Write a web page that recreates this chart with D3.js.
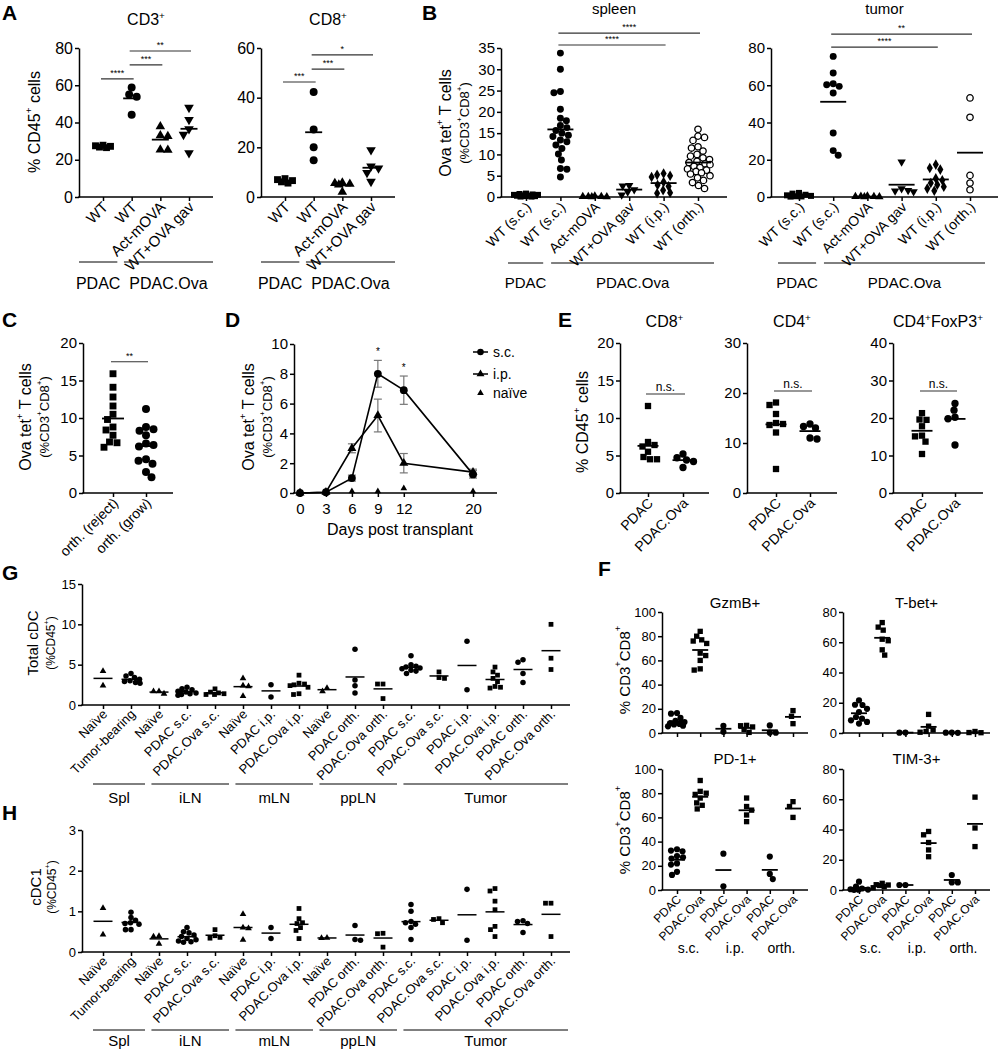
<!DOCTYPE html>
<html><head><meta charset="utf-8">
<script src="https://cdn.jsdelivr.net/npm/d3@7"></script>
<style>
body{margin:0;background:#fff}
svg text{font-family:"Liberation Sans",Arial,Helvetica,sans-serif;fill:#000}
</style></head><body>
<svg id="c" width="999" height="1050"></svg>
<script>
// ================= DATA =================
// Panel A
const aCats = ["WT","WT","Act-mOVA","WT+OVA gav"];
const aGroups = [["PDAC",0,0],["PDAC.Ova",1,3]];
const aCD3 = [[27.8,27.2,26.8,26.5,27.5],[58.8,55,53.8,44.2],[37.8,33,32.6,25.4,25.2],[48,41.5,36.5,33.5,23.6]];
const aCD8 = [[7.4,7.0,6.6,6.1,5.6],[42.3,27.2,20,14.8],[5.7,5.5,5.2,4.9,2.0],[18.9,12.4,11.6,9.8,6.2]];
const aCD3Sig = [[0,1,63.4,"****"],[1,2,70.9,"***"],[1,3,78.4,"**"]];
const aCD8Sig = [[0,1,46.3,"***"],[1,2,51.5,"***"],[1,3,57.2,"*"]];
const aTicksCD3 = [0,20,40,60,80];
const aTicksCD8 = [0,20,40,60];
// Panel B
const bCats = ["WT (s.c.)","WT (s.c.)","Act-mOVA","WT+OVA gav","WT (i.p.)","WT (orth.)"];
const bGroups = [["PDAC",0,0],["PDAC.Ova",1,5]];
const bSpleen = [
  [0.8,0.7,0.6,0.5,0.5,0.4,0.3,0.3,0.2,0.2,0.1,0.1],
  [33.8,30,24.8,24.5,20.6,18.5,17.9,16.8,16.3,15.6,15,14.5,14.2,13.4,13,12.2,11.4,10.1,8.7,6.7,6.5,4.7],
  [0.2,0.1,0.1,0.05,0.05,0.1],
  [2.7,2.6,1.7,1.2,0.5],
  [5.5,5.2,5.0,4.7,3.5,2.8,2.5,1.6,1.0,0.9],
  [15.9,14.3,14.0,13.3,11.8,11.5,10.8,10.0,9.6,9.2,8.8,8.4,8.1,7.8,7.6,7.2,6.9,6.6,6.3,6.0,5.7,5.4,5.0,4.5,3.9,3.4,2.7,2.0]
];
const bTumor = [
  [2.2,1.8,1.2,0.9,0.6,0.4,0.3,0.2],
  [75.5,66.6,60.8,60.3,59.4,55.8,34.4,24.9,22.4],
  [0.5,0.3,0.2,0.2,0.1,0.1],
  [18.8,4.5,3.6,3.3,2.8],
  [17.4,15.6,14.7,10,9,7.5,6.6,5.5,4.5,3.4],
  [53.2,42.8,11.6,7.5,3.9]
];
const bSpleenSig = [[1,5,38.5,"****"],[1,4,35.7,"****"]];
const bTumorSig = [[1,5,87.5,"**"],[1,4,80.5,"****"]];
const bTicksSpleen = [0,5,10,15,20,25,30,35];
const bTicksTumor = [0,20,40,60,80];
// Panel C
const cCats = ["orth. (reject)","orth. (grow)"];
const cVals = [[15.9,14.1,12.8,11.6,10.5,9.8,8.8,8.4,7.7,6.8,6.7,6.1],[11.2,8.8,8.5,8.3,7.7,6.6,6.4,6.2,4.5,4.3,3.9,2.8,2.1]];
const cSig = [[0,1,17.5,"**"]];
const cTicks = [0,5,10,15,20];
// Panel D
const dDays = [0,3,6,9,12,20];
const dSC = [0,0.05,1.0,8.0,6.9,1.25];
const dSCerr = [0,0,0.2,0.9,0.95,0.25];
const dIP = [0,0.05,3.0,5.2,2.0,1.4];
const dIPerr = [0,0,0.3,1.1,0.65,0.2];
const dNaive = [0,0,0.05,0.05,0.25,0.05];
const dStars = [[9,"*"],[12,"*"]];
const dTicksY = [0,2,4,6,8,10];
const dLegend = ["s.c.","i.p.","naïve"];
// Panel E
const eCats = ["PDAC","PDAC.Ova"];
const eCD8 = [[11.6,6.8,6.4,6.2,5.5,4.8,4.5,4.5],[5.2,4.7,4.4,4.2,3.4]];
const eCD4 = [[18.1,17.6,15.8,14,13.8,13.6,12.1,4.8],[13.8,13.3,13.0,11.0,10.8]];
const eFox = [[21.3,19.6,19.5,17.8,15.3,15.1,13.7,10.4],[23.9,22.1,20.2,19.8,12.8]];
const eSig = [13.2,20.4,27.2];
// Panel F
const fCats = ["PDAC","PDAC.Ova","PDAC","PDAC.Ova","PDAC","PDAC.Ova"];
const fRoutes = ["s.c.","i.p.","orth."];
const fGzmB = [[16.5,16,12.5,10,9,8,7.5,7,6,5.5],[84,80,77,76,74,66,64,60,53,52],[6,1],[6.3,6.0,5,3,0.5],[6.3,0.3,0.2],[18.5,13.8,7.7]];
const fTbet = [[21.6,18.7,18.5,16,13.9,10.6,9.5,8.4,7.3,6.2],[73,70,68,62,61,55,51.5],[0.3,0.2],[12.3,4.5,2,1,0.5],[0.2,0.1,0.3],[1,0.3,0.2]];
const fPD1 = [[33.7,32.6,32,28,27,26,22,21,15,12.5],[90.5,81.5,80,79,76,72,70,67],[30,3],[76,69,66,62,56.5],[27.6,13.3,9],[73,69,60]];
const fTIM3 = [[5.5,2.2,1,0.5,0.3,0.2,0.1],[4.4,3.5,3.3,3,2.2,1.5],[3.3,3.3],[38.7,36.5,31.4,26.5,22],[9.9,5,5],[61.4,41,28.7]];
// Panels G & H
const gCats = ["Naïve","Tumor-bearing","Naïve","PDAC s.c.","PDAC.Ova s.c.","Naïve","PDAC i.p.","PDAC.Ova i.p.","Naïve","PDAC orth.","PDAC.Ova orth.","PDAC s.c.","PDAC.Ova s.c.","PDAC i.p.","PDAC.Ova i.p.","PDAC orth.","PDAC.Ova orth."];
const gGroups = [["Spl",0,1],["iLN",2,4],["mLN",5,7],["ppLN",8,10],["Tumor",11,16]];
const gVals = [[4.2,2.4],[3.9,3.6,3.4,3.2,3.0,2.9,2.8,2.7],[1.7,1.7,1.4],[2.2,2.0,1.9,1.7,1.6,1.5,1.4,1.3,1.2],[2.0,1.6,1.5,1.4,1.3,1.3],[3.3,2.4,2.3,1.1],[2.5,1.0],[3.7,2.7,2.6,2.5,2.4,2.2,1.4,1.3],[2.1,1.7],[6.9,3.1,2.4,1.5],[2.6,2.6,0.8],[6.1,5.0,4.8,4.7,4.6,4.5,4.3,4.2,3.9],[4.1,3.4,3.3],[7.9,1.9],[4.7,4.1,3.7,3.3,2.9,2.3,2.2,2.1],[5.6,5.3,3.9,2.8],[10,5.8,4.4]];
const hVals = [[1.08,0.43],[0.98,0.85,0.78,0.72,0.7,0.68,0.55,0.55],[0.39,0.38,0.2],[0.6,0.5,0.47,0.42,0.38,0.33,0.3,0.27,0.25,0.24],[0.55,0.4,0.36,0.34],[0.93,0.6,0.58,0.3],[0.6,0.33],[1.07,0.82,0.72,0.7,0.6,0.53,0.33],[0.35,0.34],[0.65,0.31,0.29],[0.46,0.45,0.12],[1.17,1.0,0.75,0.72,0.68,0.6,0.31],[0.82,0.8,0.72],[1.54,0.29],[1.56,1.5,1.25,1.04,0.63,0.55,0.38],[0.77,0.75,0.7,0.48],[1.2,1.2,0.38]];
const gTicks = [0,5,10,15];
const hTicks = [0,1,2,3];

// ================= DRAWING =================
const svg = d3.select("#c");
const FONT = '"Liberation Sans", Arial, Helvetica, sans-serif';
const fmt = d3.format("~g");

function txt(parent, x, y, str, size, opt = {}) {
  const t = parent.append("text").attr("x", x).attr("y", y).attr("font-size", size)
    .attr("text-anchor", opt.anchor || "middle").attr("font-family", FONT);
  if (opt.weight) t.attr("font-weight", opt.weight);
  if (opt.transform) t.attr("transform", opt.transform);
  if (opt.baseline) t.attr("dominant-baseline", opt.baseline);
  const parts = str.split(/(\^.)/).filter(s => s.length);
  let raised = false;
  parts.forEach(p => {
    if (p[0] === "^") {
      t.append("tspan").attr("font-size", size * 0.62).attr("dy", raised ? 0 : -size * 0.38).text(p.slice(1));
      raised = true;
    } else {
      t.append("tspan").attr("dy", raised ? size * 0.38 : 0).text(p);
      raised = false;
    }
  });
  return t;
}

const SYM = {circle: d3.symbolCircle, square: d3.symbolSquare, tri: d3.symbolTriangle,
  tridown: d3.symbolTriangle, diamond: d3.symbolDiamond, open: d3.symbolCircle};
const SYMF = {circle: 1, square: 0.95, tri: 0.8, tridown: 0.8, diamond: 0.85, open: 0.85};
function drawSym(g, shape, x, y, size) {
  const p = g.append("path").attr("d", d3.symbol(SYM[shape], size * SYMF[shape])())
    .attr("transform", `translate(${x},${y})${shape === "tridown" ? " rotate(180)" : ""}`);
  if (shape === "open") p.attr("fill", "#fff").attr("stroke", "#000").attr("stroke-width", 1.3);
  else p.attr("fill", "#000");
}

// simple beeswarm with limited horizontal spread (overlap allowed when crowded)
function swarm(vals, y, cx, d, maxOff) {
  const pts = [];
  vals.slice().sort((a, b) => b - a).forEach((v, k) => {
    const py = y(v);
    let best = cx, bestScore = -Infinity, done = false;
    const order = k % 2 ? [-1, 1] : [1, -1];
    for (let o = 0; o <= maxOff && !done; o += 0.5) {
      for (const s of (o === 0 ? [1] : order)) {
        const px = cx + s * o;
        const md = pts.length ? d3.min(pts, q => Math.hypot(q.x - px, q.y - py)) : Infinity;
        if (md >= d) { best = px; done = true; break; }
        if (md > bestScore + 0.01) { bestScore = md; best = px; }
      }
    }
    pts.push({x: best, y: py});
  });
  return pts;
}

function styleAxis(sel, font, sw) {
  sel.selectAll("text").attr("font-size", font).attr("font-family", FONT).attr("fill", "#000");
  sel.selectAll("line,path").attr("stroke", "#000").attr("stroke-width", sw);
}

function dotPlot(c) {
  const g = svg.append("g");
  const n = c.values.length;
  const sw = c.sw || 1.5;
  const y = d3.scaleLinear().domain([0, c.max]).range([c.yBot, c.yTop]);
  const x = d3.scalePoint().domain(d3.range(n)).range([c.x0 + c.padL, c.x1 - c.padR]);
  const step = x.step();
  const ya = g.append("g").attr("transform", `translate(${c.x0},0)`)
    .call(d3.axisLeft(y).tickValues(c.ticks).tickFormat(fmt).tickSize(c.tick || 5).tickSizeOuter(0).tickPadding(c.tpad == null ? 2 : c.tpad));
  styleAxis(ya, c.tickFont, sw);
  const xa = g.append("g").attr("transform", `translate(0,${c.yBot})`)
    .call(d3.axisBottom(x).tickSize(c.xtick == null ? 4 : c.xtick).tickFormat(""));
  xa.select(".domain").remove();
  styleAxis(xa, c.tickFont, sw);
  g.append("line").attr("x1", c.x0 - sw / 2).attr("x2", c.x1).attr("y1", c.yBot).attr("y2", c.yBot)
    .attr("stroke", "#000").attr("stroke-width", sw);
  c.values.forEach((vals, i) => {
    swarm(vals, y, x(i), c.gap, c.spread).forEach(p => drawSym(g, c.shapes[i], p.x, p.y, c.msize));
    if (vals.length) {
      const m = d3.mean(vals);
      g.append("line").attr("x1", x(i) - c.meanW).attr("x2", x(i) + c.meanW)
        .attr("y1", y(m)).attr("y2", y(m)).attr("stroke", "#000").attr("stroke-width", c.meanSW || 1.8);
    }
  });
  if (c.labels) c.labels.forEach((l, i) => txt(g, 0, 0, l, c.labFont,
    {anchor: "end", transform: `translate(${x(i) + (c.labDx || 6)},${c.yBot + (c.labDy || 11)}) rotate(-45)`}));
  if (c.groups) c.groups.forEach(([lab, i0, i1]) => {
    const L = i0 === 0 ? c.x0 + (c.gInL || 0) : x(i0) - 0.27 * step;
    const R = i1 === n - 1 ? c.x1 - (c.gInR || 0) : x(i1) + 0.5 * step;
    g.append("line").attr("x1", L).attr("x2", R).attr("y1", c.gY).attr("y2", c.gY)
      .attr("stroke", "#000").attr("stroke-width", 1);
    txt(g, (L + R) / 2, c.gTY, lab, c.gFont);
  });
  if (c.sig) c.sig.forEach(([i, j, v, lab]) => {
    g.append("line").attr("x1", x(i) - 2).attr("x2", x(j) + 2).attr("y1", y(v)).attr("y2", y(v))
      .attr("stroke", "#333").attr("stroke-width", 1.2);
    txt(g, (x(i) + x(j)) / 2, y(v) - 3, lab, c.sigFont || 9);
  });
  if (c.ylab) c.ylab.forEach(([s, xx, size]) => txt(g, 0, 0, s, size,
    {transform: `translate(${xx},${c.ylabY}) rotate(-90)`, baseline: "central"}));
  if (c.title) txt(g, (c.x0 + c.x1) / 2, c.titleY, c.title, c.titleFont);
  return {g, x, y};
}

// Panel letters
[["A",2,20],["B",422,20],["C",2,327],["D",225,327],["E",558,327],["F",598,576],["G",2,580],["H",2,820]]
  .forEach(([l, x, y]) => txt(svg, x, y, l, 21, {anchor: "start", weight: "bold"}));

// ---- A ----
const aCommon = {yTop: 48, yBot: 197, padL: 24, padR: 24, gap: 7.5, spread: 10, msize: 50, meanW: 8.5,
  tickFont: 16, labFont: 15, labels: aCats, groups: aGroups, gY: 262, gTY: 289, gFont: 16,
  shapes: ["square","circle","tri","tridown"], titleY: 25, titleFont: 16, tick: 4, sigFont: 9};
dotPlot(Object.assign({}, aCommon, {x0: 79, x1: 213, max: 80, ticks: aTicksCD3, values: aCD3, sig: aCD3Sig,
  title: "CD3^+", ylab: [["% CD45^+ cells", 34, 16]], ylabY: 122}));
dotPlot(Object.assign({}, aCommon, {x0: 261, x1: 395, max: 60, ticks: aTicksCD8, values: aCD8, sig: aCD8Sig,
  title: "CD8^+"}));

// ---- B ----
const bCommon = {yTop: 48, yBot: 197, padL: 25, padR: 29, gap: 6.5, spread: 12, msize: 38, meanW: 13,
  tickFont: 15, labFont: 14, labels: bCats, groups: bGroups, gY: 263, gTY: 288, gFont: 15, gInL: 7, gInR: 13,
  shapes: ["square","circle","tri","tridown","diamond","open"], titleY: 14, titleFont: 15, tick: 4, sigFont: 9};
dotPlot(Object.assign({}, bCommon, {x0: 501, x1: 727, max: 35, ticks: bTicksSpleen, values: bSpleen, sig: bSpleenSig,
  title: "spleen", ylab: [["Ova tet^+ T cells", 445, 16], ["(%CD3^+CD8^+)", 464, 13]], ylabY: 123}));
dotPlot(Object.assign({}, bCommon, {x0: 771, x1: 998, padL: 28, padR: 28, max: 80, ticks: bTicksTumor, values: bTumor, sig: bTumorSig,
  title: "tumor"}));

// ---- C ----
dotPlot({x0: 83, x1: 173, yTop: 343, yBot: 493, padL: 30, padR: 27, max: 20, ticks: cTicks, values: cVals,
  shapes: ["square","circle"], gap: 7.5, spread: 11, msize: 50, meanW: 11, tickFont: 15, labFont: 14, labels: cCats,
  sig: cSig, sigFont: 9, tick: 4, ylab: [["Ova tet^+ T cells", 25, 16], ["(%CD3^+CD8^+)", 44, 13]], ylabY: 417});

// ---- D ----
(function () {
  const g = svg.append("g");
  const x = d3.scaleLinear().domain([0, 20]).range([300, 473]);
  const y = d3.scaleLinear().domain([0, 10]).range([493, 344]);
  const ya = g.append("g").attr("transform", "translate(294,0)")
    .call(d3.axisLeft(y).tickValues(dTicksY).tickSize(4).tickSizeOuter(0).tickPadding(2));
  styleAxis(ya, 15, 1.5);
  const xa = g.append("g").attr("transform", "translate(0,493)")
    .call(d3.axisBottom(x).tickValues(dDays).tickSize(4).tickPadding(6));
  xa.select(".domain").remove();
  styleAxis(xa, 15, 1.5);
  g.append("line").attr("x1", 293).attr("x2", 497).attr("y1", 493).attr("y2", 493).attr("stroke", "#000").attr("stroke-width", 1.5);
  // error bars
  [[dSC, dSCerr], [dIP, dIPerr]].forEach(([v, e]) => dDays.forEach((d, i) => {
    if (!e[i]) return;
    const cx = x(d), t = y(v[i] + e[i]), b = y(v[i] - e[i]);
    g.append("line").attr("x1", cx).attr("x2", cx).attr("y1", t).attr("y2", b).attr("stroke", "#777").attr("stroke-width", 1.2);
    [t, b].forEach(yy => g.append("line").attr("x1", cx - 4).attr("x2", cx + 4).attr("y1", yy).attr("y2", yy).attr("stroke", "#777").attr("stroke-width", 1.2));
  }));
  const line = d3.line().x((d, i) => x(dDays[i])).y(d => y(d));
  [dSC, dIP].forEach(v => g.append("path").attr("d", line(v)).attr("fill", "none").attr("stroke", "#000").attr("stroke-width", 1.6));
  dDays.forEach((d, i) => {
    drawSym(g, "tri", x(d), y(dNaive[i]) - 1, 24);
    drawSym(g, "tri", x(d), y(dIP[i]), 44);
    drawSym(g, "circle", x(d), y(dSC[i]), 48);
  });
  dStars.forEach(([d, s]) => {
    const i = dDays.indexOf(d);
    txt(g, x(d), y(dSC[i] + dSCerr[i]) - 5, s, 10);
  });
  // legend
  const ly = [352, 374, 393];
  dLegend.forEach((l, i) => {
    if (i < 2) g.append("line").attr("x1", 473).attr("x2", 488).attr("y1", ly[i]).attr("y2", ly[i]).attr("stroke", "#000").attr("stroke-width", 1.5);
    drawSym(g, i === 0 ? "circle" : "tri", 480.5, ly[i], i === 0 ? 34 : (i === 1 ? 34 : 24));
    txt(g, 493, ly[i], l, 14, {anchor: "start", baseline: "central"});
  });
  txt(g, 400, 535, "Days post transplant", 16);
  txt(g, 0, 0, "Ova tet^+ T cells", 16, {transform: "translate(248,417) rotate(-90)", baseline: "central"});
  txt(g, 0, 0, "(%CD3^+CD8^+)", 13, {transform: "translate(267,417) rotate(-90)", baseline: "central"});
})();

// ---- E ----
const eCommon = {yTop: 343, yBot: 493, shapes: ["square","circle"], gap: 6.8, spread: 11, msize: 42, meanW: 10.5,
  tickFont: 15, labFont: 14, labels: eCats, tick: 4, titleY: 327, titleFont: 16, sigFont: 12};
dotPlot(Object.assign({}, eCommon, {x0: 620, x1: 709, padL: 28, padR: 26, max: 20, ticks: [0,5,10,15,20], values: eCD8,
  sig: [[0,1,eSig[0],"n.s."]], title: "CD8^+", ylab: [["% CD45^+ cells", 582, 16]], ylabY: 422}));
dotPlot(Object.assign({}, eCommon, {x0: 747, x1: 837, padL: 29, padR: 27, max: 30, ticks: [0,10,20,30], values: eCD4,
  sig: [[0,1,eSig[1],"n.s."]], title: "CD4^+"}));
dotPlot(Object.assign({}, eCommon, {x0: 893, x1: 983, padL: 29, padR: 28, max: 40, ticks: [0,10,20,30,40], values: eFox,
  sig: [[0,1,eSig[2],"n.s."]], title: "CD4^+FoxP3^+"}));

// ---- F ----
const fShapes = ["circle","square","circle","square","circle","square"];
const fCommon = {shapes: fShapes, gap: 5.8, spread: 9, msize: 30, meanW: 8, tickFont: 13, labFont: 12, tick: 4,
  titleFont: 15, tpad: 2};
const fL = {x0: 662, x1: 808, padL: 15, padR: 15, max: 100, ticks: [0,20,40,60,80,100]};
const fR = {x0: 843, x1: 990, padL: 16, padR: 15, max: 80, ticks: [0,20,40,60,80]};
dotPlot(Object.assign({}, fCommon, fL, {yTop: 612, yBot: 733, values: fGzmB, title: "GzmB+", titleY: 608,
  ylab: [["% CD3^+CD8^+", 624, 15]], ylabY: 670}));
dotPlot(Object.assign({}, fCommon, fR, {yTop: 612, yBot: 733, values: fTbet, title: "T-bet+", titleY: 608}));
const fPD = dotPlot(Object.assign({}, fCommon, fL, {yTop: 769, yBot: 890, values: fPD1, title: "PD-1+", titleY: 764,
  labels: fCats, labDx: 5, labDy: 10, ylab: [["% CD3^+CD8^+", 624, 15]], ylabY: 830}));
const fTI = dotPlot(Object.assign({}, fCommon, fR, {yTop: 769, yBot: 890, values: fTIM3, title: "TIM-3+", titleY: 764,
  labels: fCats, labDx: 5, labDy: 10}));
[fPD, fTI].forEach(p => fRoutes.forEach((r, k) => txt(svg, (p.x(2 * k) + p.x(2 * k + 1)) / 2, 953, r, 14)));

// ---- G & H ----
const ghShapes = gCats.map(c => c === "Naïve" ? "tri" : (c.indexOf("Ova") >= 0 ? "square" : "circle"));
const ghCommon = {x0: 82, x1: 570, padL: 21, padR: 19, shapes: ghShapes, gap: 5.2, spread: 9, msize: 24, meanW: 9.5,
  meanSW: 1.5, tickFont: 13, labFont: 13, labels: gCats, labDx: 5, labDy: 10, groups: gGroups, gInL: 11, gInR: 2,
  gFont: 15, tick: 4};
dotPlot(Object.assign({}, ghCommon, {yTop: 584, yBot: 705, max: 15, ticks: gTicks, values: gVals,
  gY: 784, gTY: 803, ylab: [["Total cDC", 32, 15], ["(%CD45^+)", 51, 12]], ylabY: 643}));
dotPlot(Object.assign({}, ghCommon, {yTop: 830, yBot: 952, max: 3, ticks: hTicks, values: hVals,
  gY: 1030, gTY: 1046, ylab: [["cDC1", 35, 15], ["(%CD45^+)", 52, 12]], ylabY: 887}));
</script>
</body></html>
